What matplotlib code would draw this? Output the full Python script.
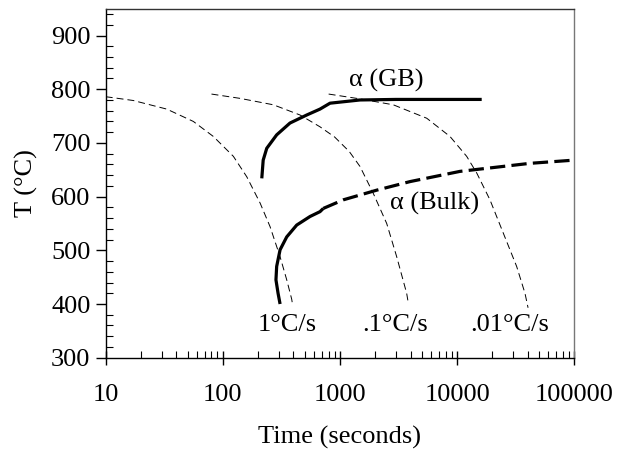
import matplotlib
matplotlib.use("Agg")
import matplotlib.pyplot as plt
from matplotlib.ticker import MultipleLocator, LogLocator, NullFormatter, FixedLocator

plt.rcParams['font.family'] = ['Liberation Serif', 'DejaVu Serif']
plt.rcParams['lines.scale_dashes'] = False

# Cooling curves (thin dashed)
cool1_t = [10, 10.9, 17.2, 33.2, 56, 83, 123, 160, 208, 253, 308, 351, 387, 395]
cool1_T = [786, 785, 779, 763, 740, 712, 675, 637, 588, 544, 488, 445, 409, 397]
cool01_t = [80, 140, 270, 456, 675, 900, 1200, 1483, 1924, 2504, 3048, 3707, 3820]
cool01_T = [791, 783, 771, 752, 730, 711, 684, 656, 606, 550, 488, 420, 403]
cool001_t = [800, 1483, 2850, 5500, 8690, 12060, 14690, 19060, 24770, 32200, 37930, 40300]
cool001_T = [791, 782, 771, 746, 712, 675, 644, 594, 532, 470, 420, 393]

# alpha (GB) start curve
gb_t = [215, 221, 237, 288, 374, 520, 675, 822, 1483, 3000, 16200]
gb_T = [634, 668, 690, 715, 737, 752, 763, 774, 780, 781, 781]

# alpha (Bulk) start curve: solid part, then dashed extrapolation
bulk_t = [308, 296, 284, 288, 308, 351, 427, 555, 675, 720]
bulk_T = [400, 420, 445, 470, 501, 525, 547, 563, 572, 578]
bulk_ext_t = [720, 1067, 2056, 3965, 10570, 41900, 100000]
bulk_ext_T = [578, 594, 612, 628, 647, 662, 668]

rate_labels = ["1°C/s", ".1°C/s", ".01°C/s"]
rate_label_t = [358, 2970, 28200]

fig = plt.figure(figsize=(6.21, 4.5), dpi=100)
ax = fig.add_axes([0.1702, 0.2051, 0.7546, 0.7756])

thin = dict(color='black', lw=0.7, dashes=(5.0, 2.9))
ax.plot(cool1_t, cool1_T, **thin)
ax.plot(cool01_t, cool01_T, **thin)
ax.plot(cool001_t, cool001_T, **thin)

ax.plot(gb_t, gb_T, color='black', lw=2.3, solid_capstyle='butt', solid_joinstyle='round')
ax.plot(bulk_t, bulk_T, color='black', lw=2.3, solid_capstyle='butt', solid_joinstyle='round')
ax.plot(bulk_ext_t, bulk_ext_T, color='black', lw=2.3, dashes=(11, 4.5))

fs = 19
ax.text(2500, 817, "α (GB)", fontsize=fs, ha='center', va='center')
ax.text(6440, 588, "α (Bulk)", fontsize=fs, ha='center', va='center')
for lab, t in zip(rate_labels, rate_label_t):
    ax.text(t, 361, lab, fontsize=fs, ha='center', va='center')

ax.set_xscale('log')
ax.set_xlim(10, 100000)
ax.set_ylim(300, 950)
ax.set_yticks([300, 400, 500, 600, 700, 800, 900])
ax.yaxis.set_minor_locator(MultipleLocator(20))
ax.xaxis.set_major_locator(FixedLocator([10, 100, 1000, 10000, 100000]))
ax.xaxis.set_minor_locator(LogLocator(base=10, subs=range(2, 10)))
ax.xaxis.set_minor_formatter(NullFormatter())
ax.set_xticklabels(["10", "100", "1000", "10000", "100000"])

ax.tick_params(axis='y', which='major', direction='out', length=7, width=1, labelsize=fs, pad=4)
ax.tick_params(axis='y', which='minor', direction='in', length=5, width=0.8)
ax.tick_params(axis='x', which='major', direction='inout', length=10, width=1, labelsize=fs, pad=14)
ax.tick_params(axis='x', which='minor', direction='in', length=5, width=0.8)

for s in ax.spines.values():
    s.set_linewidth(1.0)
ax.spines['right'].set_color('#777777')
ax.spines['top'].set_color('#333333')

ax.set_xlabel("Time (seconds)", fontsize=fs, labelpad=14)
ax.set_ylabel("T (°C)", fontsize=fs, labelpad=9)

fig.savefig("out.png", dpi=100)
